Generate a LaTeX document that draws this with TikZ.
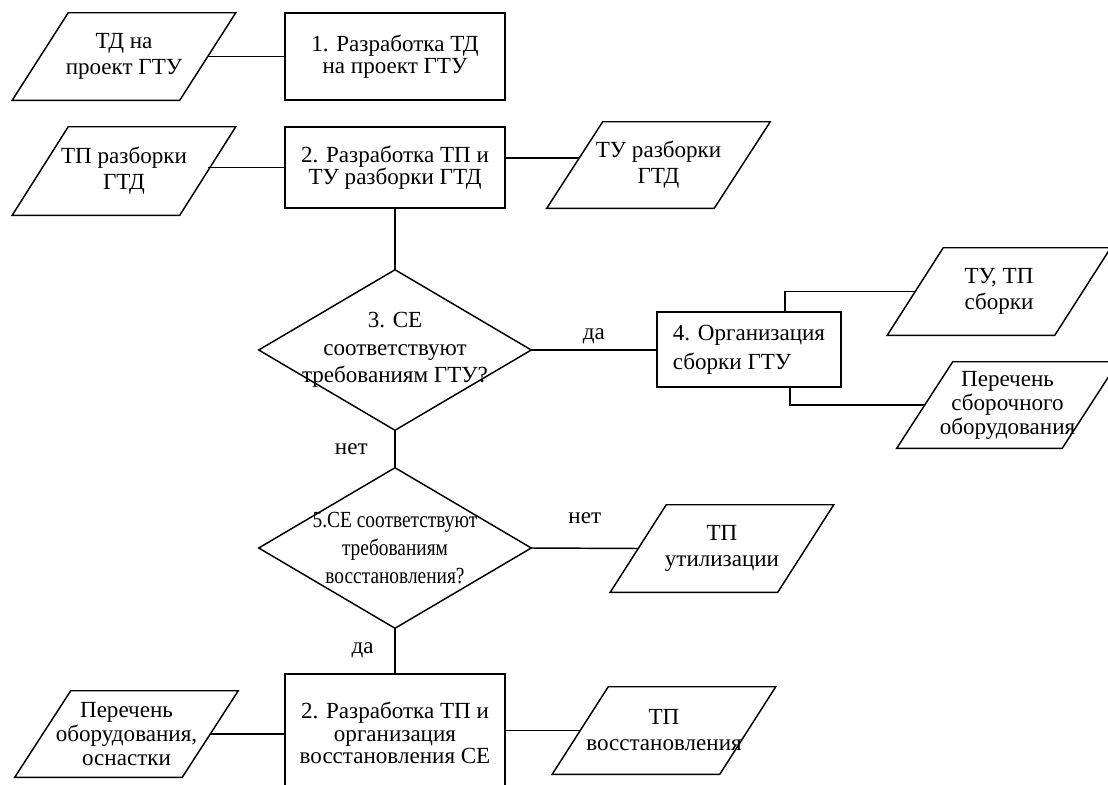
\documentclass[tikz,border=0pt]{standalone}
\usepackage{fontspec}
\setmainfont{Liberation Serif}
\usepackage{graphicx}
\newlength\pxu
\setlength\pxu{0.75pt}
\tikzset{
  ln/.style={line width=1.1pt, draw=black},
  tb/.style={align=center, inner sep=0pt, font=\fontsize{17.3pt}{16.8pt}\selectfont},
  tp/.style={align=center, inner sep=0pt, font=\fontsize{17.3pt}{19.5pt}\selectfont},
  boxnode/.style={tb, ln, rectangle, draw},
  paranode/.style={tp, rectangle, minimum width=167\pxu, minimum height=87\pxu},
  diamnode/.style={tp, rectangle, minimum width=272\pxu, minimum height=160\pxu},
  lab/.style={inner sep=0pt, font=\fontsize{17.3pt}{17pt}\selectfont},
}
\begin{document}
\begin{tikzpicture}[x=0.75pt,y=-0.75pt]
\useasboundingbox (0,0) rectangle (1108,785);
\clip (0,0) rectangle (1108,785);
\fill[white] (0,0) rectangle (1108,785);

% process boxes
\node[boxnode, minimum width=220\pxu, minimum height=87\pxu] (b1) at (395,56.5) {1. Разработка ТД\\на проект ГТУ};
\node[boxnode, minimum width=220\pxu, minimum height=81\pxu] (b2) at (395,167.5) {2. Разработка ТП и\\ТУ разборки ГТД};
\node[boxnode, align=left, minimum width=184\pxu, minimum height=75\pxu, font=\fontsize{17.3pt}{21.5pt}\selectfont] (b4) at (749,349.5) {4. Организация\\сборки ГТУ};
\node[boxnode, minimum width=220\pxu, minimum height=118\pxu] (b5) at (395,733) {2. Разработка ТП и\\организация\\восстановления СЕ};

% data (parallelograms)
\node[paranode] (p1) at (124,56.5) {ТД на\\проект ГТУ};
\node[paranode, minimum height=88\pxu] (p2) at (124,171) {ТП разборки\\ГТД};
\node[paranode, minimum height=86\pxu] (p3) at (658.5,165) {ТУ разборки\\ГТД};
\node[paranode] (p4) at (999,291.5) {ТУ, ТП\\сборки};
\node[paranode, minimum width=165\pxu, minimum height=86\pxu, font=\fontsize{17.3pt}{18pt}\selectfont] (p5) at (1007.5,405) {Перечень\\сборочного\\оборудования};
\node[paranode] (p6) at (722,548.5) {ТП\\утилизации};
\node[paranode, minimum height=86\pxu, font=\fontsize{17.3pt}{18pt}\selectfont] (p7) at (126.5,734) {Перечень\\оборудования,\\оснастки};
\node[paranode] (p8) at (664,730.5) {ТП\\восстановления};

\foreach \n in {p1,p2,p3,p4,p5,p6,p7,p8}
  \draw[ln] ([xshift=28\pxu]\n.north west) -- ([xshift=28\pxu]\n.north east)
    -- ([xshift=-28\pxu]\n.south east) -- ([xshift=-28\pxu]\n.south west) -- cycle;

% decisions
\node[diamnode, font=\fontsize{17.3pt}{20.5pt}\selectfont] (d3) at (395,350) {3. СЕ\\соответствуют\\требованиям ГТУ?};
\node[diamnode, font=\fontsize{17.3pt}{21pt}\selectfont] (d5) at (395,548) {\scalebox{0.84}[1]{5.СЕ соответствуют}\\\scalebox{0.84}[1]{требованиям}\\\scalebox{0.84}[1]{восстановления?}};
\foreach \n in {d3,d5}
  \draw[ln] (\n.north) -- (\n.east) -- (\n.south) -- (\n.west) -- cycle;

% connectors
\draw[ln] (p1.east) -- (b1.west);
\draw[ln] (b2.west) -- (b2.west -| p2.east);
\coordinate (p3in) at ([xshift=4.5\pxu,yshift=7\pxu]p3.west);
\draw[ln] (p3in) -- (p3in -| b2.east);
\draw[ln] (b2.south) -- (d3.north);
\draw[ln] (d3.east) -- (d3.east -| b4.west) node[lab, midway, above=4pt] {да};
\draw[ln] (d3.south) -- (d5.north) node[lab, midway, left=20pt] {нет};
\draw[ln] ([xshift=36\pxu]b4.north) |- (p4.west);
\draw[ln] ([xshift=41\pxu]b4.south) |- (p5.west);
\draw[ln] (d5.east) -- (p6.west) node[lab, midway, above=18pt] {нет};
\draw[ln] (d5.south) -- (b5.north) node[lab, midway, left=15.5pt] {да};
\draw[ln] (p7.east) -- (p7.east -| b5.west);
\draw[ln] (p8.west) -- (p8.west -| b5.east);
\end{tikzpicture}
\end{document}
